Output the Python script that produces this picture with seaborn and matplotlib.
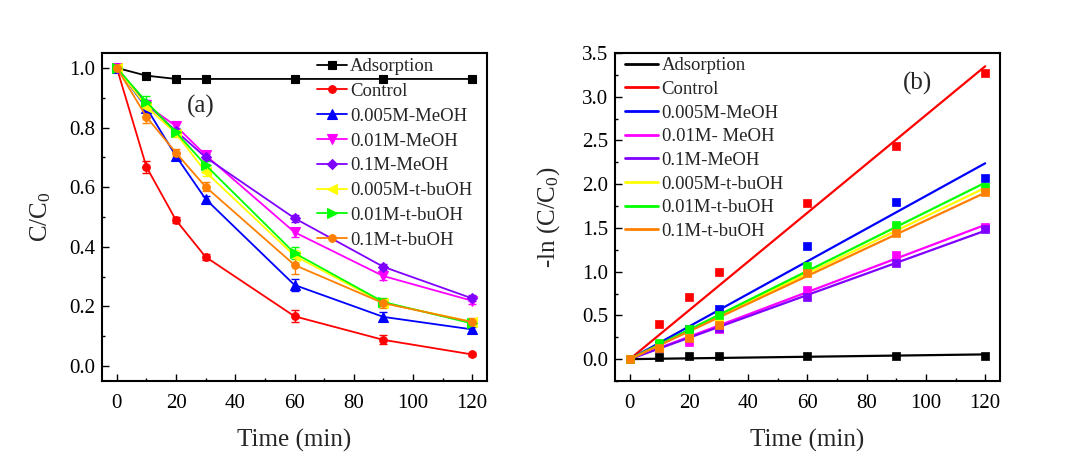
import numpy as np
import pandas as pd
import matplotlib
matplotlib.use("Agg")
import matplotlib.pyplot as plt
import seaborn as sns
from matplotlib.ticker import MultipleLocator

sns.set_theme(style="ticks")
plt.rcParams['font.family'] = ['Liberation Serif', 'DejaVu Serif']
plt.rcParams['mathtext.fontset'] = 'custom'
plt.rcParams['mathtext.rm'] = 'Liberation Serif'
plt.rcParams['mathtext.it'] = 'Liberation Serif:italic'

# ---------------- data ----------------
time = [0, 10, 20, 30, 60, 90, 120]

names_a = ["Adsorption", "Control", "0.005M-MeOH", "0.01M-MeOH", "0.1M-MeOH",
           "0.005M-t-buOH", "0.01M-t-buOH", "0.1M-t-buOH"]
names_b = ["Adsorption", "Control", "0.005M-MeOH", "0.01M- MeOH", "0.1M-MeOH",
           "0.005M-t-buOH", "0.01M-t-buOH", "0.1M-t-buOH"]

# panel (a): C/C0
adsorption = [1.0, 0.974, 0.963, 0.963, 0.963, 0.963, 0.963]
control = [1.0, 0.668, 0.489, 0.366, 0.167, 0.088, 0.039]
meoh_0005 = [1.0, 0.866, 0.704, 0.560, 0.272, 0.165, 0.123]
meoh_001 = [1.0, 0.875, 0.805, 0.707, 0.449, 0.302, 0.219]
meoh_01 = [1.0, 0.880, 0.788, 0.700, 0.496, 0.333, 0.227]
tbuoh_0005 = [1.0, 0.870, 0.780, 0.651, 0.370, 0.212, 0.148]
tbuoh_001 = [1.0, 0.886, 0.784, 0.674, 0.379, 0.215, 0.143]
tbuoh_01 = [1.0, 0.836, 0.715, 0.601, 0.339, 0.211, 0.148]

# error bars for panel (a)
err_adsorption = [0.0, 0.004, 0.004, 0.003, 0.003, 0.003, 0.003]
err_control = [0.0, 0.020, 0.010, 0.010, 0.020, 0.015, 0.006]
err_meoh_0005 = [0.0, 0.015, 0.010, 0.012, 0.020, 0.015, 0.008]
err_meoh_001 = [0.0, 0.012, 0.010, 0.012, 0.015, 0.012, 0.010]
err_meoh_01 = [0.0, 0.012, 0.010, 0.012, 0.012, 0.010, 0.010]
err_tbuoh_0005 = [0.0, 0.015, 0.012, 0.015, 0.020, 0.012, 0.010]
err_tbuoh_001 = [0.0, 0.020, 0.012, 0.015, 0.020, 0.012, 0.010]
err_tbuoh_01 = [0.0, 0.020, 0.012, 0.015, 0.030, 0.015, 0.012]

# panel (b): -ln(C/C0)
ln_adsorption = [0.0, 0.030, 0.035, 0.038, 0.038, 0.038, 0.038]
ln_control = [0.0, 0.40, 0.715, 1.00, 1.78, 2.435, 3.276]
ln_meoh_0005 = [0.0, 0.16, 0.35, 0.574, 1.29, 1.80, 2.066]
ln_meoh_001 = [0.0, 0.13, 0.20, 0.34, 0.79, 1.19, 1.514]
ln_meoh_01 = [0.0, 0.13, 0.24, 0.36, 0.715, 1.096, 1.484]
ln_tbuoh_0005 = [0.0, 0.14, 0.25, 0.45, 1.00, 1.50, 1.95]
ln_tbuoh_001 = [0.0, 0.18, 0.35, 0.505, 1.065, 1.533, 1.97]
ln_tbuoh_01 = [0.0, 0.125, 0.24, 0.39, 0.98, 1.445, 1.913]

colors = ["#000000", "#FF0000", "#0000FF", "#FF00FF", "#8000FF",
          "#FFFF00", "#00FF00", "#FF8000"]
markers = ["s", "o", "^", "v", "D", "<", ">", "o"]

series_a = [adsorption, control, meoh_0005, meoh_001, meoh_01,
            tbuoh_0005, tbuoh_001, tbuoh_01]
errs_a = [err_adsorption, err_control, err_meoh_0005, err_meoh_001, err_meoh_01,
          err_tbuoh_0005, err_tbuoh_001, err_tbuoh_01]
series_b = [ln_adsorption, ln_control, ln_meoh_0005, ln_meoh_001, ln_meoh_01,
            ln_tbuoh_0005, ln_tbuoh_001, ln_tbuoh_01]

# ---------------- figure ----------------
W, H = 1080, 458
fig = plt.figure(figsize=(W / 100, H / 100), dpi=100)
ax_a = fig.add_axes([102 / W, 1 - 381 / H, 385 / W, 328 / H])
ax_b = fig.add_axes([615 / W, 1 - 381 / H, 385 / W, 328 / H])

t = np.array(time, dtype=float)

for name, vals, err, c, m in zip(names_a, series_a, errs_a, colors, markers):
    ms = 6.5 if m in ("^", "v", "<", ">") else 5.5
    if m == "D":
        ms = 5
    ax_a.errorbar(t, vals, yerr=err, fmt="none", ecolor=c, elinewidth=1.0,
                  capsize=3, capthick=1.0, zorder=2)
    sns.lineplot(x=t, y=vals, ax=ax_a, color=c, marker=m, markersize=ms,
                 markeredgecolor=c, markeredgewidth=0.8, linewidth=1.3,
                 label=name, zorder=3)

for name, vals, c in zip(names_b, series_b, colors):
    y = np.array(vals, dtype=float)
    slope = np.sum(t * y) / np.sum(t * t)  # linear fit through origin
    xfit = np.array([t[0], t[-1]])
    sns.lineplot(x=xfit, y=slope * xfit, ax=ax_b, color=c, linewidth=1.6,
                 label=name, zorder=2)
    sns.scatterplot(x=t, y=y, ax=ax_b, color=c, marker="s", s=30,
                    edgecolor=c, linewidth=0.5, legend=False, zorder=3)

# ---------------- styling ----------------
for ax in (ax_a, ax_b):
    ax.set_xlim(-5, 125)
    ax.xaxis.set_major_locator(MultipleLocator(20))
    ax.xaxis.set_minor_locator(MultipleLocator(10))
    ax.tick_params(which="both", direction="in", top=False, right=False,
                   labelsize=15, colors="black")
    ax.tick_params(axis="x", pad=9)
    ax.tick_params(axis="y", pad=5)
    ax.tick_params(which="major", length=5, width=1.0)
    ax.tick_params(which="minor", length=2.5, width=1.0)
    for sp in ax.spines.values():
        sp.set_visible(True)
        sp.set_linewidth(1.5)
        sp.set_color("black")
    ax.set_xlabel("Time (min)", fontsize=18)
    ax.xaxis.set_label_coords(0.5, -0.145)
    ax.set_facecolor("white")

ax_a.set_ylim(-0.05, 1.05)
ax_a.yaxis.set_major_locator(MultipleLocator(0.2))
ax_a.yaxis.set_minor_locator(MultipleLocator(0.1))
ax_a.yaxis.set_major_formatter(matplotlib.ticker.FormatStrFormatter("%.1f"))
ax_a.set_ylabel(r"C/C$_\mathregular{0}$", fontsize=18)
ax_a.yaxis.set_label_coords(-0.128, 0.5)

ax_b.set_ylim(-0.25, 3.5)
ax_b.yaxis.set_major_locator(MultipleLocator(0.5))
ax_b.yaxis.set_minor_locator(MultipleLocator(0.25))
ax_b.yaxis.set_major_formatter(matplotlib.ticker.FormatStrFormatter("%.1f"))
ax_b.set_ylabel(r"-ln (C/C$_\mathregular{0}$)", fontsize=18)
ax_b.yaxis.set_label_coords(-0.138, 0.5)

ax_a.text(201 / W, 1 - 106 / H, "(a)", transform=fig.transFigure,
          fontsize=18, ha="center", va="center")
ax_b.text(917 / W, 1 - 83 / H, "(b)", transform=fig.transFigure,
          fontsize=18, ha="center", va="center")

leg_a = ax_a.legend(loc="upper left", bbox_to_anchor=(317 / W, 1 - 58 / H),
                    bbox_transform=fig.transFigure, frameon=False, fontsize=13.5,
                    handlelength=1.6, handletextpad=0.15, labelspacing=0.41,
                    borderpad=0, borderaxespad=0)
leg_b = ax_b.legend(loc="upper left", bbox_to_anchor=(625 / W, 1 - 57 / H),
                    bbox_transform=fig.transFigure, frameon=False, fontsize=13.5,
                    handlelength=1.75, handletextpad=0.2, labelspacing=0.35,
                    borderpad=0, borderaxespad=0)
for lh in leg_b.get_lines():
    lh.set_linewidth(2.0)

fig.savefig("out.png", dpi=100, facecolor="white")
